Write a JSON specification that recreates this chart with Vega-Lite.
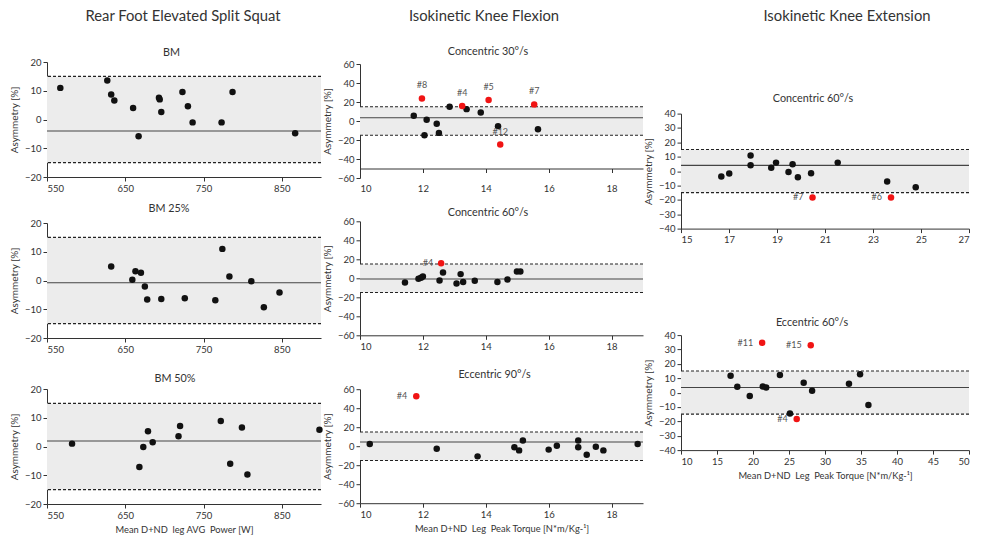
{
"$schema": "https://vega.github.io/schema/vega-lite/v6.json",
"background": "white",
"padding": {"left": 9, "top": 0, "right": 0, "bottom": 0},
"spacing": -1,
"config": {
  "font": "Lato",
  "view": {"stroke": null},
  "axis": {"domainColor": "#333", "tickColor": "#333", "labelColor": "#333", "titleColor": "#333", "labelFont": "Lato", "titleFont": "Lato", "labelFontSize": 9.5, "titleFontSize": 9.3, "titleFontWeight": "normal", "grid": false, "tickSize": 4, "labelPadding": 2, "labelOverlap": false},
  "axisY": {"titlePadding": 5, "titleFontSize": 10},
  "axisX": {"titlePadding": 6},
  "title": {"font": "Lato", "fontSize": 10.8, "fontWeight": "normal", "color": "#333"}
},
"datasets": {
  "headers": [
    {"col": 1, "title": "Rear Foot Elevated Split Squat"},
    {"col": 2, "title": "Isokinetic Knee Flexion"},
    {"col": 3, "title": "Isokinetic Knee Extension"}
  ],
  "limits": [
    {"panel": "c1p1", "mean": -4.0, "lo": -15, "hi": 15},
    {"panel": "c1p2", "mean": -0.8, "lo": -15, "hi": 15},
    {"panel": "c1p3", "mean": 1.9, "lo": -15, "hi": 15},
    {"panel": "c2p1", "mean": 3.5, "lo": -15, "hi": 15},
    {"panel": "c2p2", "mean": -0.8, "lo": -15, "hi": 15},
    {"panel": "c2p3", "mean": 4.4, "lo": -15, "hi": 15},
    {"panel": "c3p1", "mean": 4.0, "lo": -15, "hi": 15},
    {"panel": "c3p2", "mean": 3.6, "lo": -15, "hi": 15}
  ],
  "points": [
    {"panel": "c1p1", "x": 567, "y": 11.0, "group": "normal"},
    {"panel": "c1p1", "x": 627, "y": 13.6, "group": "normal"},
    {"panel": "c1p1", "x": 632, "y": 8.7, "group": "normal"},
    {"panel": "c1p1", "x": 636, "y": 6.6, "group": "normal"},
    {"panel": "c1p1", "x": 660, "y": 4.0, "group": "normal"},
    {"panel": "c1p1", "x": 667, "y": -5.8, "group": "normal"},
    {"panel": "c1p1", "x": 693, "y": 7.6, "group": "normal"},
    {"panel": "c1p1", "x": 694, "y": 7.0, "group": "normal"},
    {"panel": "c1p1", "x": 696, "y": 2.6, "group": "normal"},
    {"panel": "c1p1", "x": 723, "y": 9.6, "group": "normal"},
    {"panel": "c1p1", "x": 730, "y": 4.6, "group": "normal"},
    {"panel": "c1p1", "x": 736, "y": -1.0, "group": "normal"},
    {"panel": "c1p1", "x": 773, "y": -1.0, "group": "normal"},
    {"panel": "c1p1", "x": 787, "y": 9.6, "group": "normal"},
    {"panel": "c1p1", "x": 867, "y": -4.8, "group": "normal"},
    {"panel": "c1p2", "x": 632, "y": 4.9, "group": "normal"},
    {"panel": "c1p2", "x": 659, "y": 0.3, "group": "normal"},
    {"panel": "c1p2", "x": 663, "y": 3.2, "group": "normal"},
    {"panel": "c1p2", "x": 670, "y": 2.7, "group": "normal"},
    {"panel": "c1p2", "x": 675, "y": -2.1, "group": "normal"},
    {"panel": "c1p2", "x": 678, "y": -6.6, "group": "normal"},
    {"panel": "c1p2", "x": 696, "y": -6.4, "group": "normal"},
    {"panel": "c1p2", "x": 726, "y": -6.2, "group": "normal"},
    {"panel": "c1p2", "x": 765, "y": -6.9, "group": "normal"},
    {"panel": "c1p2", "x": 774, "y": 11.0, "group": "normal"},
    {"panel": "c1p2", "x": 783, "y": 1.4, "group": "normal"},
    {"panel": "c1p2", "x": 811, "y": -0.3, "group": "normal"},
    {"panel": "c1p2", "x": 827, "y": -9.3, "group": "normal"},
    {"panel": "c1p2", "x": 847, "y": -4.2, "group": "normal"},
    {"panel": "c1p3", "x": 582, "y": 1.0, "group": "normal"},
    {"panel": "c1p3", "x": 668, "y": -7.1, "group": "normal"},
    {"panel": "c1p3", "x": 673, "y": -0.2, "group": "normal"},
    {"panel": "c1p3", "x": 679, "y": 5.3, "group": "normal"},
    {"panel": "c1p3", "x": 685, "y": 1.5, "group": "normal"},
    {"panel": "c1p3", "x": 718, "y": 3.6, "group": "normal"},
    {"panel": "c1p3", "x": 720, "y": 7.1, "group": "normal"},
    {"panel": "c1p3", "x": 772, "y": 8.9, "group": "normal"},
    {"panel": "c1p3", "x": 784, "y": -6.0, "group": "normal"},
    {"panel": "c1p3", "x": 799, "y": 6.6, "group": "normal"},
    {"panel": "c1p3", "x": 806, "y": -9.7, "group": "normal"},
    {"panel": "c1p3", "x": 898, "y": 5.8, "group": "normal"},
    {"panel": "c2p1", "x": 11.71, "y": 5.5, "group": "normal"},
    {"panel": "c2p1", "x": 12.05, "y": -15.0, "group": "normal"},
    {"panel": "c2p1", "x": 12.12, "y": 1.2, "group": "normal"},
    {"panel": "c2p1", "x": 12.44, "y": -3.0, "group": "normal"},
    {"panel": "c2p1", "x": 12.51, "y": -12.5, "group": "normal"},
    {"panel": "c2p1", "x": 12.85, "y": 15.0, "group": "normal"},
    {"panel": "c2p1", "x": 13.39, "y": 12.5, "group": "normal"},
    {"panel": "c2p1", "x": 13.84, "y": 9.0, "group": "normal"},
    {"panel": "c2p1", "x": 14.39, "y": -5.4, "group": "normal"},
    {"panel": "c2p1", "x": 15.66, "y": -8.6, "group": "normal"},
    {"panel": "c2p1", "x": 11.97, "y": 23.8, "group": "outlier", "label": "#8"},
    {"panel": "c2p1", "x": 13.25, "y": 15.7, "group": "outlier", "label": "#4"},
    {"panel": "c2p1", "x": 14.09, "y": 22.0, "group": "outlier", "label": "#5"},
    {"panel": "c2p1", "x": 15.54, "y": 17.4, "group": "outlier", "label": "#7"},
    {"panel": "c2p1", "x": 14.46, "y": -24.8, "group": "outlier", "label": "#12"},
    {"panel": "c2p2", "x": 11.43, "y": -4.4, "group": "normal"},
    {"panel": "c2p2", "x": 11.86, "y": -0.5, "group": "normal"},
    {"panel": "c2p2", "x": 11.94, "y": 0.5, "group": "normal"},
    {"panel": "c2p2", "x": 12.0, "y": 1.9, "group": "normal"},
    {"panel": "c2p2", "x": 12.53, "y": -2.3, "group": "normal"},
    {"panel": "c2p2", "x": 12.64, "y": 6.1, "group": "normal"},
    {"panel": "c2p2", "x": 13.07, "y": -5.4, "group": "normal"},
    {"panel": "c2p2", "x": 13.2, "y": 4.4, "group": "normal"},
    {"panel": "c2p2", "x": 13.28, "y": -4.0, "group": "normal"},
    {"panel": "c2p2", "x": 13.65, "y": -2.7, "group": "normal"},
    {"panel": "c2p2", "x": 14.37, "y": -4.0, "group": "normal"},
    {"panel": "c2p2", "x": 14.69, "y": -1.2, "group": "normal"},
    {"panel": "c2p2", "x": 14.99, "y": 7.2, "group": "normal"},
    {"panel": "c2p2", "x": 15.1, "y": 7.2, "group": "normal"},
    {"panel": "c2p2", "x": 12.58, "y": 15.9, "group": "outlier", "label": "#4"},
    {"panel": "c2p3", "x": 10.31, "y": 2.3, "group": "normal"},
    {"panel": "c2p3", "x": 12.44, "y": -2.6, "group": "normal"},
    {"panel": "c2p3", "x": 13.74, "y": -10.7, "group": "normal"},
    {"panel": "c2p3", "x": 14.91, "y": -1.2, "group": "normal"},
    {"panel": "c2p3", "x": 15.06, "y": -4.4, "group": "normal"},
    {"panel": "c2p3", "x": 15.18, "y": 6.1, "group": "normal"},
    {"panel": "c2p3", "x": 16.0, "y": -3.6, "group": "normal"},
    {"panel": "c2p3", "x": 16.26, "y": 0.5, "group": "normal"},
    {"panel": "c2p3", "x": 16.94, "y": 6.1, "group": "normal"},
    {"panel": "c2p3", "x": 16.94, "y": -1.2, "group": "normal"},
    {"panel": "c2p3", "x": 17.21, "y": -8.9, "group": "normal"},
    {"panel": "c2p3", "x": 17.5, "y": -0.5, "group": "normal"},
    {"panel": "c2p3", "x": 17.74, "y": -4.4, "group": "normal"},
    {"panel": "c2p3", "x": 18.83, "y": 2.3, "group": "normal"},
    {"panel": "c2p3", "x": 11.79, "y": 52.7, "group": "outlier", "label": "#4"},
    {"panel": "c3p1", "x": 16.68, "y": -3.8, "group": "normal"},
    {"panel": "c3p1", "x": 17.01, "y": -1.7, "group": "normal"},
    {"panel": "c3p1", "x": 17.9, "y": 10.8, "group": "normal"},
    {"panel": "c3p1", "x": 17.9, "y": 4.1, "group": "normal"},
    {"panel": "c3p1", "x": 18.76, "y": 2.4, "group": "normal"},
    {"panel": "c3p1", "x": 18.96, "y": 5.9, "group": "normal"},
    {"panel": "c3p1", "x": 19.48, "y": -0.6, "group": "normal"},
    {"panel": "c3p1", "x": 19.65, "y": 4.8, "group": "normal"},
    {"panel": "c3p1", "x": 19.87, "y": -4.3, "group": "normal"},
    {"panel": "c3p1", "x": 20.42, "y": -1.5, "group": "normal"},
    {"panel": "c3p1", "x": 21.53, "y": 5.9, "group": "normal"},
    {"panel": "c3p1", "x": 23.59, "y": -7.3, "group": "normal"},
    {"panel": "c3p1", "x": 24.78, "y": -11.3, "group": "normal"},
    {"panel": "c3p1", "x": 20.48, "y": -18.3, "group": "outlier", "label": "#7"},
    {"panel": "c3p1", "x": 23.75, "y": -18.3, "group": "outlier", "label": "#6"},
    {"panel": "c3p2", "x": 16.89, "y": 11.8, "group": "normal"},
    {"panel": "c3p2", "x": 17.82, "y": 4.1, "group": "normal"},
    {"panel": "c3p2", "x": 19.55, "y": -2.4, "group": "normal"},
    {"panel": "c3p2", "x": 21.36, "y": 4.3, "group": "normal"},
    {"panel": "c3p2", "x": 21.83, "y": 3.6, "group": "normal"},
    {"panel": "c3p2", "x": 23.74, "y": 12.2, "group": "normal"},
    {"panel": "c3p2", "x": 25.13, "y": -14.6, "group": "normal"},
    {"panel": "c3p2", "x": 27.04, "y": 6.9, "group": "normal"},
    {"panel": "c3p2", "x": 28.21, "y": 1.3, "group": "normal"},
    {"panel": "c3p2", "x": 33.33, "y": 6.2, "group": "normal"},
    {"panel": "c3p2", "x": 34.87, "y": 12.7, "group": "normal"},
    {"panel": "c3p2", "x": 36.03, "y": -8.7, "group": "normal"},
    {"panel": "c3p2", "x": 21.27, "y": 34.6, "group": "outlier", "label": "#11"},
    {"panel": "c3p2", "x": 28.02, "y": 33.0, "group": "outlier", "label": "#15"},
    {"panel": "c3p2", "x": 26.07, "y": -18.3, "group": "outlier", "label": "#4"}
  ]
},
"hconcat": [
{
  "spacing": 13,
  "vconcat": [
  {
    "width": 274, "height": 34,
    "data": {"name": "headers"}, "transform": [{"filter": "datum.col === 1"}],
    "mark": {"type": "text", "fontSize": 14.8, "dx": -1, "align": "center", "baseline": "middle", "color": "#333"},
    "encoding": {"text": {"field": "title"}}
  },
  {
  "spacing": 19,
  "vconcat": [
  {
    "spacing": 10,
    "vconcat": [
    {
      "width": 274, "height": 115,
      "title": {"text": "BM", "offset": -1.1, "dx": -12.5},
      "layer": [
        {"data": {"name": "limits"}, "transform": [{"filter": "datum.panel === 'c1p1'"}], "mark": {"type": "rect", "color": "#ececec"}, "encoding": {"y": {"field": "lo", "type": "quantitative", "title": "Asymmetry [%]", "scale": {"domain": [-20, 20], "nice": false}, "axis": {"values": [-20, -10, 0, 10, 20]}}, "y2": {"field": "hi"}}},
        {"data": {"name": "limits"}, "transform": [{"filter": "datum.panel === 'c1p1'"}], "mark": {"type": "rule", "color": "#222", "strokeDash": [3, 2], "strokeWidth": 1.1}, "encoding": {"y": {"field": "lo", "type": "quantitative", "title": "Asymmetry [%]", "scale": {"domain": [-20, 20], "nice": false}, "axis": {"values": [-20, -10, 0, 10, 20]}}}},
        {"data": {"name": "limits"}, "transform": [{"filter": "datum.panel === 'c1p1'"}], "mark": {"type": "rule", "color": "#222", "strokeDash": [3, 2], "strokeWidth": 1.1}, "encoding": {"y": {"field": "hi", "type": "quantitative", "title": "Asymmetry [%]", "scale": {"domain": [-20, 20], "nice": false}, "axis": {"values": [-20, -10, 0, 10, 20]}}}},
        {"data": {"name": "limits"}, "transform": [{"filter": "datum.panel === 'c1p1'"}], "mark": {"type": "rule", "color": "#444", "strokeWidth": 1.1}, "encoding": {"y": {"field": "mean", "type": "quantitative", "title": "Asymmetry [%]", "scale": {"domain": [-20, 20], "nice": false}, "axis": {"values": [-20, -10, 0, 10, 20]}}}},
        {"data": {"name": "points"}, "transform": [{"filter": "datum.panel === 'c1p1'"}], "mark": {"type": "circle", "size": 42, "opacity": 1},
         "encoding": {
           "x": {"field": "x", "type": "quantitative", "title": null, "scale": {"domain": [550, 900], "nice": false}, "axis": {"values": [550, 650, 750, 850]}},
           "y": {"field": "y", "type": "quantitative", "title": "Asymmetry [%]", "scale": {"domain": [-20, 20], "nice": false}, "axis": {"values": [-20, -10, 0, 10, 20]}},
           "color": {"field": "group", "type": "nominal", "scale": {"domain": ["normal", "outlier"], "range": ["#111111", "#f01414"]}, "legend": null}}}
      ]
    },
    {
      "width": 274, "height": 115,
      "title": {"text": "BM 25%", "offset": 3.9, "dx": -15},
      "layer": [
        {"data": {"name": "limits"}, "transform": [{"filter": "datum.panel === 'c1p2'"}], "mark": {"type": "rect", "color": "#ececec"}, "encoding": {"y": {"field": "lo", "type": "quantitative", "title": "Asymmetry [%]", "scale": {"domain": [-20, 20], "nice": false}, "axis": {"values": [-20, -10, 0, 10, 20]}}, "y2": {"field": "hi"}}},
        {"data": {"name": "limits"}, "transform": [{"filter": "datum.panel === 'c1p2'"}], "mark": {"type": "rule", "color": "#222", "strokeDash": [3, 2], "strokeWidth": 1.1}, "encoding": {"y": {"field": "lo", "type": "quantitative", "title": "Asymmetry [%]", "scale": {"domain": [-20, 20], "nice": false}, "axis": {"values": [-20, -10, 0, 10, 20]}}}},
        {"data": {"name": "limits"}, "transform": [{"filter": "datum.panel === 'c1p2'"}], "mark": {"type": "rule", "color": "#222", "strokeDash": [3, 2], "strokeWidth": 1.1}, "encoding": {"y": {"field": "hi", "type": "quantitative", "title": "Asymmetry [%]", "scale": {"domain": [-20, 20], "nice": false}, "axis": {"values": [-20, -10, 0, 10, 20]}}}},
        {"data": {"name": "limits"}, "transform": [{"filter": "datum.panel === 'c1p2'"}], "mark": {"type": "rule", "color": "#444", "strokeWidth": 1.1}, "encoding": {"y": {"field": "mean", "type": "quantitative", "title": "Asymmetry [%]", "scale": {"domain": [-20, 20], "nice": false}, "axis": {"values": [-20, -10, 0, 10, 20]}}}},
        {"data": {"name": "points"}, "transform": [{"filter": "datum.panel === 'c1p2'"}], "mark": {"type": "circle", "size": 42, "opacity": 1},
         "encoding": {
           "x": {"field": "x", "type": "quantitative", "title": null, "scale": {"domain": [550, 900], "nice": false}, "axis": {"values": [550, 650, 750, 850]}},
           "y": {"field": "y", "type": "quantitative", "title": "Asymmetry [%]", "scale": {"domain": [-20, 20], "nice": false}, "axis": {"values": [-20, -10, 0, 10, 20]}},
           "color": {"field": "group", "type": "nominal", "scale": {"domain": ["normal", "outlier"], "range": ["#111111", "#f01414"]}, "legend": null}}}
      ]
    }
    ]
  },
  {
    "width": 274, "height": 115,
    "title": {"text": "BM 50%", "offset": 0.2, "dx": -9},
    "layer": [
      {"data": {"name": "limits"}, "transform": [{"filter": "datum.panel === 'c1p3'"}], "mark": {"type": "rect", "color": "#ececec"}, "encoding": {"y": {"field": "lo", "type": "quantitative", "title": "Asymmetry [%]", "scale": {"domain": [-20, 20], "nice": false}, "axis": {"values": [-20, -10, 0, 10, 20]}}, "y2": {"field": "hi"}}},
      {"data": {"name": "limits"}, "transform": [{"filter": "datum.panel === 'c1p3'"}], "mark": {"type": "rule", "color": "#222", "strokeDash": [3, 2], "strokeWidth": 1.1}, "encoding": {"y": {"field": "lo", "type": "quantitative", "title": "Asymmetry [%]", "scale": {"domain": [-20, 20], "nice": false}, "axis": {"values": [-20, -10, 0, 10, 20]}}}},
      {"data": {"name": "limits"}, "transform": [{"filter": "datum.panel === 'c1p3'"}], "mark": {"type": "rule", "color": "#222", "strokeDash": [3, 2], "strokeWidth": 1.1}, "encoding": {"y": {"field": "hi", "type": "quantitative", "title": "Asymmetry [%]", "scale": {"domain": [-20, 20], "nice": false}, "axis": {"values": [-20, -10, 0, 10, 20]}}}},
      {"data": {"name": "limits"}, "transform": [{"filter": "datum.panel === 'c1p3'"}], "mark": {"type": "rule", "color": "#444", "strokeWidth": 1.1}, "encoding": {"y": {"field": "mean", "type": "quantitative", "title": "Asymmetry [%]", "scale": {"domain": [-20, 20], "nice": false}, "axis": {"values": [-20, -10, 0, 10, 20]}}}},
      {"data": {"name": "points"}, "transform": [{"filter": "datum.panel === 'c1p3'"}], "mark": {"type": "circle", "size": 42, "opacity": 1},
       "encoding": {
         "x": {"field": "x", "type": "quantitative", "title": "Mean D+ND\u00a0 leg AVG\u00a0 Power [W]", "scale": {"domain": [550, 900], "nice": false}, "axis": {"values": [550, 650, 750, 850]}},
         "y": {"field": "y", "type": "quantitative", "title": "Asymmetry [%]", "scale": {"domain": [-20, 20], "nice": false}, "axis": {"values": [-20, -10, 0, 10, 20]}},
         "color": {"field": "group", "type": "nominal", "scale": {"domain": ["normal", "outlier"], "range": ["#111111", "#f01414"]}, "legend": null}}}
    ]
  }
  ]
  }
  ]
},
{
  "spacing": 11,
  "vconcat": [
  {
    "width": 283, "height": 34,
    "data": {"name": "headers"}, "transform": [{"filter": "datum.col === 2"}],
    "mark": {"type": "text", "fontSize": 14.8, "dx": -17.5, "align": "center", "baseline": "middle", "color": "#333"},
    "encoding": {"text": {"field": "title"}}
  },
  {
  "spacing": 17.2,
  "vconcat": [
  {
    "spacing": 13.3,
    "vconcat": [
    {
      "width": 283, "height": 114,
      "title": {"text": "Concentric 30°/s", "offset": 2.5, "dx": -13.5},
      "layer": [
        {"data": {"name": "limits"}, "transform": [{"filter": "datum.panel === 'c2p1'"}], "mark": {"type": "rect", "color": "#ececec"}, "encoding": {"y": {"field": "lo", "type": "quantitative", "title": "Asymmetry [%]", "scale": {"domain": [-60, 60], "nice": false}, "axis": {"values": [-60, -40, -20, 0, 20, 40, 60]}}, "y2": {"field": "hi"}}},
        {"data": {"name": "limits"}, "transform": [{"filter": "datum.panel === 'c2p1'"}], "mark": {"type": "rule", "color": "#222", "strokeDash": [3, 2], "strokeWidth": 1.1}, "encoding": {"y": {"field": "lo", "type": "quantitative", "title": "Asymmetry [%]", "scale": {"domain": [-60, 60], "nice": false}, "axis": {"values": [-60, -40, -20, 0, 20, 40, 60]}}}},
        {"data": {"name": "limits"}, "transform": [{"filter": "datum.panel === 'c2p1'"}], "mark": {"type": "rule", "color": "#222", "strokeDash": [3, 2], "strokeWidth": 1.1}, "encoding": {"y": {"field": "hi", "type": "quantitative", "title": "Asymmetry [%]", "scale": {"domain": [-60, 60], "nice": false}, "axis": {"values": [-60, -40, -20, 0, 20, 40, 60]}}}},
        {"data": {"name": "limits"}, "transform": [{"filter": "datum.panel === 'c2p1'"}], "mark": {"type": "rule", "color": "#444", "strokeWidth": 1.1}, "encoding": {"y": {"field": "mean", "type": "quantitative", "title": "Asymmetry [%]", "scale": {"domain": [-60, 60], "nice": false}, "axis": {"values": [-60, -40, -20, 0, 20, 40, 60]}}}},
        {"data": {"name": "points"}, "transform": [{"filter": "datum.panel === 'c2p1'"}], "mark": {"type": "circle", "size": 42, "opacity": 1},
         "encoding": {
           "x": {"field": "x", "type": "quantitative", "title": null, "scale": {"domain": [10, 19], "nice": false}, "axis": {"values": [10, 12, 14, 16, 18], "offset": -9.5, "labelPadding": 11}},
           "y": {"field": "y", "type": "quantitative", "title": "Asymmetry [%]", "scale": {"domain": [-60, 60], "nice": false}, "axis": {"values": [-60, -40, -20, 0, 20, 40, 60]}},
           "color": {"field": "group", "type": "nominal", "scale": {"domain": ["normal", "outlier"], "range": ["#111111", "#f01414"]}, "legend": null}}},
        {"data": {"name": "points"}, "transform": [{"filter": "datum.panel === 'c2p1' && datum.label"}], "mark": {"type": "text", "dy": -13, "fontSize": 9, "color": "#555"},
         "encoding": {"x": {"field": "x", "type": "quantitative", "title": null, "scale": {"domain": [10, 19], "nice": false}, "axis": {"values": [10, 12, 14, 16, 18], "offset": -9.5, "labelPadding": 11}}, "y": {"field": "y", "type": "quantitative", "title": "Asymmetry [%]", "scale": {"domain": [-60, 60], "nice": false}, "axis": {"values": [-60, -40, -20, 0, 20, 40, 60]}}, "text": {"field": "label"}}}
      ]
    },
    {
      "width": 283, "height": 114,
      "title": {"text": "Concentric 60°/s", "offset": -1.1, "dx": -13.5},
      "layer": [
        {"data": {"name": "limits"}, "transform": [{"filter": "datum.panel === 'c2p2'"}], "mark": {"type": "rect", "color": "#ececec"}, "encoding": {"y": {"field": "lo", "type": "quantitative", "title": "Asymmetry [%]", "scale": {"domain": [-60, 60], "nice": false}, "axis": {"values": [-60, -40, -20, 0, 20, 40, 60]}}, "y2": {"field": "hi"}}},
        {"data": {"name": "limits"}, "transform": [{"filter": "datum.panel === 'c2p2'"}], "mark": {"type": "rule", "color": "#222", "strokeDash": [3, 2], "strokeWidth": 1.1}, "encoding": {"y": {"field": "lo", "type": "quantitative", "title": "Asymmetry [%]", "scale": {"domain": [-60, 60], "nice": false}, "axis": {"values": [-60, -40, -20, 0, 20, 40, 60]}}}},
        {"data": {"name": "limits"}, "transform": [{"filter": "datum.panel === 'c2p2'"}], "mark": {"type": "rule", "color": "#222", "strokeDash": [3, 2], "strokeWidth": 1.1}, "encoding": {"y": {"field": "hi", "type": "quantitative", "title": "Asymmetry [%]", "scale": {"domain": [-60, 60], "nice": false}, "axis": {"values": [-60, -40, -20, 0, 20, 40, 60]}}}},
        {"data": {"name": "limits"}, "transform": [{"filter": "datum.panel === 'c2p2'"}], "mark": {"type": "rule", "color": "#444", "strokeWidth": 1.1}, "encoding": {"y": {"field": "mean", "type": "quantitative", "title": "Asymmetry [%]", "scale": {"domain": [-60, 60], "nice": false}, "axis": {"values": [-60, -40, -20, 0, 20, 40, 60]}}}},
        {"data": {"name": "points"}, "transform": [{"filter": "datum.panel === 'c2p2'"}], "mark": {"type": "circle", "size": 42, "opacity": 1},
         "encoding": {
           "x": {"field": "x", "type": "quantitative", "title": null, "scale": {"domain": [10, 19], "nice": false}, "axis": {"values": [10, 12, 14, 16, 18]}},
           "y": {"field": "y", "type": "quantitative", "title": "Asymmetry [%]", "scale": {"domain": [-60, 60], "nice": false}, "axis": {"values": [-60, -40, -20, 0, 20, 40, 60]}},
           "color": {"field": "group", "type": "nominal", "scale": {"domain": ["normal", "outlier"], "range": ["#111111", "#f01414"]}, "legend": null}}},
        {"data": {"name": "points"}, "transform": [{"filter": "datum.panel === 'c2p2' && datum.label"}], "mark": {"type": "text", "dx": -8, "align": "right", "baseline": "middle", "fontSize": 9, "color": "#555"},
         "encoding": {"x": {"field": "x", "type": "quantitative", "title": null, "scale": {"domain": [10, 19], "nice": false}, "axis": {"values": [10, 12, 14, 16, 18]}}, "y": {"field": "y", "type": "quantitative", "title": "Asymmetry [%]", "scale": {"domain": [-60, 60], "nice": false}, "axis": {"values": [-60, -40, -20, 0, 20, 40, 60]}}, "text": {"field": "label"}}}
      ]
    }
    ]
  },
  {
    "width": 283, "height": 114,
    "title": {"text": "Eccentric 90°/s", "offset": 4.3, "dx": -7},
    "layer": [
      {"data": {"name": "limits"}, "transform": [{"filter": "datum.panel === 'c2p3'"}], "mark": {"type": "rect", "color": "#ececec"}, "encoding": {"y": {"field": "lo", "type": "quantitative", "title": "Asymmetry [%]", "scale": {"domain": [-60, 60], "nice": false}, "axis": {"values": [-60, -40, -20, 0, 20, 40, 60]}}, "y2": {"field": "hi"}}},
      {"data": {"name": "limits"}, "transform": [{"filter": "datum.panel === 'c2p3'"}], "mark": {"type": "rule", "color": "#222", "strokeDash": [3, 2], "strokeWidth": 1.1}, "encoding": {"y": {"field": "lo", "type": "quantitative", "title": "Asymmetry [%]", "scale": {"domain": [-60, 60], "nice": false}, "axis": {"values": [-60, -40, -20, 0, 20, 40, 60]}}}},
      {"data": {"name": "limits"}, "transform": [{"filter": "datum.panel === 'c2p3'"}], "mark": {"type": "rule", "color": "#222", "strokeDash": [3, 2], "strokeWidth": 1.1}, "encoding": {"y": {"field": "hi", "type": "quantitative", "title": "Asymmetry [%]", "scale": {"domain": [-60, 60], "nice": false}, "axis": {"values": [-60, -40, -20, 0, 20, 40, 60]}}}},
      {"data": {"name": "limits"}, "transform": [{"filter": "datum.panel === 'c2p3'"}], "mark": {"type": "rule", "color": "#444", "strokeWidth": 1.1}, "encoding": {"y": {"field": "mean", "type": "quantitative", "title": "Asymmetry [%]", "scale": {"domain": [-60, 60], "nice": false}, "axis": {"values": [-60, -40, -20, 0, 20, 40, 60]}}}},
      {"data": {"name": "points"}, "transform": [{"filter": "datum.panel === 'c2p3'"}], "mark": {"type": "circle", "size": 42, "opacity": 1},
       "encoding": {
         "x": {"field": "x", "type": "quantitative", "title": "Mean D+ND\u00a0 Leg\u00a0 Peak Torque [N*m/Kg-¹]", "scale": {"domain": [10, 19], "nice": false}, "axis": {"values": [10, 12, 14, 16, 18]}},
         "y": {"field": "y", "type": "quantitative", "title": "Asymmetry [%]", "scale": {"domain": [-60, 60], "nice": false}, "axis": {"values": [-60, -40, -20, 0, 20, 40, 60]}},
         "color": {"field": "group", "type": "nominal", "scale": {"domain": ["normal", "outlier"], "range": ["#111111", "#f01414"]}, "legend": null}}},
      {"data": {"name": "points"}, "transform": [{"filter": "datum.panel === 'c2p3' && datum.label"}], "mark": {"type": "text", "dx": -9, "align": "right", "baseline": "middle", "fontSize": 9, "color": "#555"},
       "encoding": {"x": {"field": "x", "type": "quantitative", "title": "Mean D+ND\u00a0 Leg\u00a0 Peak Torque [N*m/Kg-¹]", "scale": {"domain": [10, 19], "nice": false}, "axis": {"values": [10, 12, 14, 16, 18]}}, "y": {"field": "y", "type": "quantitative", "title": "Asymmetry [%]", "scale": {"domain": [-60, 60], "nice": false}, "axis": {"values": [-60, -40, -20, 0, 20, 40, 60]}}, "text": {"field": "label"}}}
    ]
  }
  ]
  }
  ]
},
{
  "spacing": 58.6,
  "vconcat": [
  {
    "width": 288, "height": 34,
    "data": {"name": "headers"}, "transform": [{"filter": "datum.col === 3"}],
    "mark": {"type": "text", "fontSize": 14.8, "dx": 22, "align": "center", "baseline": "middle", "color": "#333"},
    "encoding": {"text": {"field": "title"}}
  },
  {
  "spacing": 71.5,
  "vconcat": [
    {
      "width": 288, "height": 115,
      "title": {"text": "Concentric 60°/s", "offset": 5, "dx": -12},
      "layer": [
        {"data": {"name": "limits"}, "transform": [{"filter": "datum.panel === 'c3p1'"}], "mark": {"type": "rect", "color": "#ececec"}, "encoding": {"y": {"field": "lo", "type": "quantitative", "title": "Asymmetry [%]", "scale": {"domain": [-40, 40], "nice": false}, "axis": {"values": [-40, -30, -20, -10, 0, 10, 20, 30, 40]}}, "y2": {"field": "hi"}}},
        {"data": {"name": "limits"}, "transform": [{"filter": "datum.panel === 'c3p1'"}], "mark": {"type": "rule", "color": "#222", "strokeDash": [3, 2], "strokeWidth": 1.1}, "encoding": {"y": {"field": "lo", "type": "quantitative", "title": "Asymmetry [%]", "scale": {"domain": [-40, 40], "nice": false}, "axis": {"values": [-40, -30, -20, -10, 0, 10, 20, 30, 40]}}}},
        {"data": {"name": "limits"}, "transform": [{"filter": "datum.panel === 'c3p1'"}], "mark": {"type": "rule", "color": "#222", "strokeDash": [3, 2], "strokeWidth": 1.1}, "encoding": {"y": {"field": "hi", "type": "quantitative", "title": "Asymmetry [%]", "scale": {"domain": [-40, 40], "nice": false}, "axis": {"values": [-40, -30, -20, -10, 0, 10, 20, 30, 40]}}}},
        {"data": {"name": "limits"}, "transform": [{"filter": "datum.panel === 'c3p1'"}], "mark": {"type": "rule", "color": "#444", "strokeWidth": 1.1}, "encoding": {"y": {"field": "mean", "type": "quantitative", "title": "Asymmetry [%]", "scale": {"domain": [-40, 40], "nice": false}, "axis": {"values": [-40, -30, -20, -10, 0, 10, 20, 30, 40]}}}},
        {"data": {"name": "points"}, "transform": [{"filter": "datum.panel === 'c3p1'"}], "mark": {"type": "circle", "size": 42, "opacity": 1},
         "encoding": {
           "x": {"field": "x", "type": "quantitative", "title": null, "scale": {"domain": [15, 27], "nice": false}, "axis": {"values": [15, 17, 19, 21, 23, 25, 27]}},
           "y": {"field": "y", "type": "quantitative", "title": "Asymmetry [%]", "scale": {"domain": [-40, 40], "nice": false}, "axis": {"values": [-40, -30, -20, -10, 0, 10, 20, 30, 40]}},
           "color": {"field": "group", "type": "nominal", "scale": {"domain": ["normal", "outlier"], "range": ["#111111", "#f01414"]}, "legend": null}}},
        {"data": {"name": "points"}, "transform": [{"filter": "datum.panel === 'c3p1' && datum.label"}], "mark": {"type": "text", "dx": -9, "align": "right", "baseline": "middle", "fontSize": 9, "color": "#555"},
         "encoding": {"x": {"field": "x", "type": "quantitative", "title": null, "scale": {"domain": [15, 27], "nice": false}, "axis": {"values": [15, 17, 19, 21, 23, 25, 27]}}, "y": {"field": "y", "type": "quantitative", "title": "Asymmetry [%]", "scale": {"domain": [-40, 40], "nice": false}, "axis": {"values": [-40, -30, -20, -10, 0, 10, 20, 30, 40]}}, "text": {"field": "label"}}}
      ]
    },
    {
      "width": 288, "height": 115,
      "title": {"text": "Eccentric 60°/s", "offset": 2.8, "dx": -13},
      "layer": [
        {"data": {"name": "limits"}, "transform": [{"filter": "datum.panel === 'c3p2'"}], "mark": {"type": "rect", "color": "#ececec"}, "encoding": {"y": {"field": "lo", "type": "quantitative", "title": "Asymmetry [%]", "scale": {"domain": [-40, 40], "nice": false}, "axis": {"values": [-40, -30, -20, -10, 0, 10, 20, 30, 40]}}, "y2": {"field": "hi"}}},
        {"data": {"name": "limits"}, "transform": [{"filter": "datum.panel === 'c3p2'"}], "mark": {"type": "rule", "color": "#222", "strokeDash": [3, 2], "strokeWidth": 1.1}, "encoding": {"y": {"field": "lo", "type": "quantitative", "title": "Asymmetry [%]", "scale": {"domain": [-40, 40], "nice": false}, "axis": {"values": [-40, -30, -20, -10, 0, 10, 20, 30, 40]}}}},
        {"data": {"name": "limits"}, "transform": [{"filter": "datum.panel === 'c3p2'"}], "mark": {"type": "rule", "color": "#222", "strokeDash": [3, 2], "strokeWidth": 1.1}, "encoding": {"y": {"field": "hi", "type": "quantitative", "title": "Asymmetry [%]", "scale": {"domain": [-40, 40], "nice": false}, "axis": {"values": [-40, -30, -20, -10, 0, 10, 20, 30, 40]}}}},
        {"data": {"name": "limits"}, "transform": [{"filter": "datum.panel === 'c3p2'"}], "mark": {"type": "rule", "color": "#444", "strokeWidth": 1.1}, "encoding": {"y": {"field": "mean", "type": "quantitative", "title": "Asymmetry [%]", "scale": {"domain": [-40, 40], "nice": false}, "axis": {"values": [-40, -30, -20, -10, 0, 10, 20, 30, 40]}}}},
        {"data": {"name": "points"}, "transform": [{"filter": "datum.panel === 'c3p2'"}], "mark": {"type": "circle", "size": 42, "opacity": 1},
         "encoding": {
           "x": {"field": "x", "type": "quantitative", "title": "Mean D+ND\u00a0 Leg\u00a0 Peak Torque [N*m/Kg-¹]", "scale": {"domain": [10, 50], "nice": false}, "axis": {"values": [10, 15, 20, 25, 30, 35, 40, 45, 50]}},
           "y": {"field": "y", "type": "quantitative", "title": "Asymmetry [%]", "scale": {"domain": [-40, 40], "nice": false}, "axis": {"values": [-40, -30, -20, -10, 0, 10, 20, 30, 40]}},
           "color": {"field": "group", "type": "nominal", "scale": {"domain": ["normal", "outlier"], "range": ["#111111", "#f01414"]}, "legend": null}}},
        {"data": {"name": "points"}, "transform": [{"filter": "datum.panel === 'c3p2' && datum.label"}], "mark": {"type": "text", "dx": -9, "align": "right", "baseline": "middle", "fontSize": 9, "color": "#555"},
         "encoding": {"x": {"field": "x", "type": "quantitative", "title": "Mean D+ND\u00a0 Leg\u00a0 Peak Torque [N*m/Kg-¹]", "scale": {"domain": [10, 50], "nice": false}, "axis": {"values": [10, 15, 20, 25, 30, 35, 40, 45, 50]}}, "y": {"field": "y", "type": "quantitative", "title": "Asymmetry [%]", "scale": {"domain": [-40, 40], "nice": false}, "axis": {"values": [-40, -30, -20, -10, 0, 10, 20, 30, 40]}}, "text": {"field": "label"}}}
      ]
    }
  ]
  }
  ]
}
]
}
